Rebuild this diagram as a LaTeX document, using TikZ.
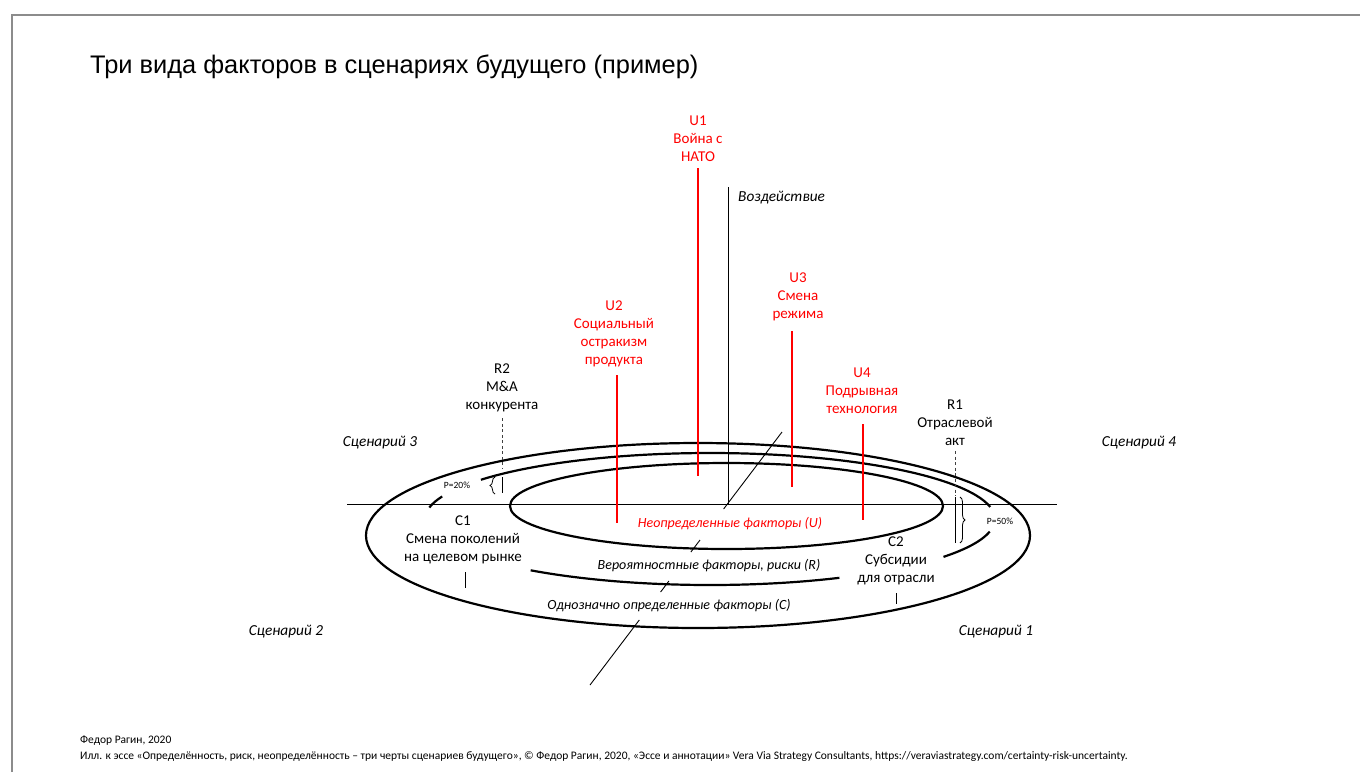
\documentclass[tikz,border=0pt]{standalone}
\usepackage{fontspec}
\setmainfont{Carlito}
\newfontfamily\titlefont{Liberation Sans}
\usetikzlibrary{decorations.pathreplacing}

\tikzset{
  lbl/.style={align=center, font=\fontsize{15}{18}\selectfont, inner sep=0pt},
  ulbl/.style={lbl, text=red},
  scen/.style={font=\fontsize{15.3}{18}\selectfont\itshape, inner sep=0pt},
  ringlbl/.style={font=\fontsize{14}{17}\selectfont\itshape, inner sep=0pt},
  ring/.style={line width=2.2pt},
  uline/.style={red, line width=1.2pt},
  rline/.style={black!75, dash pattern=on 3pt off 2.5pt, line width=0.9pt},
  brc/.style={decorate, decoration={brace, amplitude=5pt}, line width=0.8pt},
  note/.style={anchor=west, font=\fontsize{11.5}{13}\selectfont, inner sep=0pt},
}

\begin{document}
\begin{tikzpicture}[x=1pt, y=-1pt]
\useasboundingbox (0,0) rectangle (1360,772);
\draw[black!45, line width=2pt] (12,772) -- (12,15) -- (1360,15);
\node[anchor=west, font=\titlefont\fontsize{25.4}{30}\selectfont, inner sep=0pt] (title) at (90,67) {Три вида факторов в сценариях будущего (пример)};

% axes
\draw[line width=0.9pt] (347,504) -- (1057,504);
\node[scen, anchor=west] (impact) at (738,198) {Воздействие};
\draw[line width=0.9pt] (728,187) -- (728,504);
\foreach \xa/\ya/\xb/\yb in {782/432/723.6/509, 700/540/690.9/552, 668.9/581/660.6/592, 639.3/620/590/685}
  \draw[line width=0.9pt] (\xa,\ya) -- (\xb,\yb);

% rings
\draw[ring] (698,535.5) ellipse [x radius=332, y radius=92.5];
\draw[ring] (726.5,506) ellipse [x radius=216.5, y radius=43];
\foreach \a/\b in {-143.5/-10.5, 11/35, 63/129, 190/200}
  \draw[ring] (710,519) ++(\a:285 and 66) arc[start angle=\a, end angle=\b, x radius=285, y radius=66];

\node[ringlbl, text=red] (ulab) at (730,524) {Неопределенные факторы (U)};
\node[ringlbl] (rlab) at (709,566) {Вероятностные факторы, риски (R)};
\node[ringlbl] (clab) at (669,606) {Однозначно определенные факторы (C)};

% scenarios
\node[scen] (sc3) at (380,443) {Сценарий 3};
\node[scen] (sc4) at (1139,443) {Сценарий 4};
\node[scen] (sc2) at (286,632) {Сценарий 2};
\node[scen] (sc1) at (996,632) {Сценарий 1};

% uncertainties
\node[ulbl] (u1) at (698,139) {U1\\Война с\\НАТО};
\node[ulbl] (u2) at (614,334) {U2\\Социальный\\остракизм\\продукта};
\node[ulbl] (u3) at (798,297) {U3\\Смена\\режима};
\node[ulbl] (u4) at (862,391) {U4\\Подрывная\\технология};
\coordinate (u1b) at (698,476);
\coordinate (u2b) at (617,523);
\coordinate (u3b) at (792,487);
\coordinate (u4b) at (863,520);
\draw[uline] (u1.south) ++(0,6) -- (u1b);
\draw[uline] (u2b |- u2.south) ++(0,8) -- (u2b);
\draw[uline] (u3b |- u3.south) ++(0,10) -- (u3b);
\draw[uline] (u4b |- u4.south) ++(0,10) -- (u4b);

% risks
\node[lbl] (r2) at (502,388) {R2\\M\&A\\конкурента};
\node[lbl] (r1) at (955,423) {R1\\Отраслевой\\акт};
\coordinate (r2a) at (502,468);
\coordinate (r1a) at (955,496);
\draw[rline] (r2.south) ++(0,6) -- (r2a);
\draw[rline] (r1.south) ++(0,5) -- (r1a);
\draw[line width=0.9pt] (502,477) -- (502,493);
\draw[line width=0.9pt] (955,497) -- (955,543);
\draw[brc] (495,494) -- (495,477);
\draw[brc] (960,497) -- (960,543);
\node[font=\fontsize{9.5}{10}\selectfont, inner sep=0pt] (p20) at (457,485) {P=20\%};
\node[font=\fontsize{9.5}{10}\selectfont, inner sep=0pt] (p50) at (1000,521) {P=50\%};

% certainties
\node[lbl] (c1) at (463,540) {C1\\Смена поколений\\на целевом рынке};
\node[lbl] (c2) at (896,561) {C2\\Субсидии\\для отрасли};
\coordinate (c1b) at (465,588);
\coordinate (c2b) at (896,604);
\draw[line width=0.9pt] (c1b |- c1.south) ++(0,8) -- (c1b);
\draw[line width=0.9pt] (c2b |- c2.south) ++(0,8) -- (c2b);

% footer
\node[note] (auth) at (80,741) {Федор Рагин, 2020};
\node[note] (src) at (80,756) {Илл. к эссе «Определённость, риск, неопределённость – три черты сценариев будущего», © Федор Рагин, 2020, «Эссе и аннотации» Vera Via Strategy Consultants, https://veraviastrategy.com/certainty-risk-uncertainty.};
\end{tikzpicture}
\end{document}
